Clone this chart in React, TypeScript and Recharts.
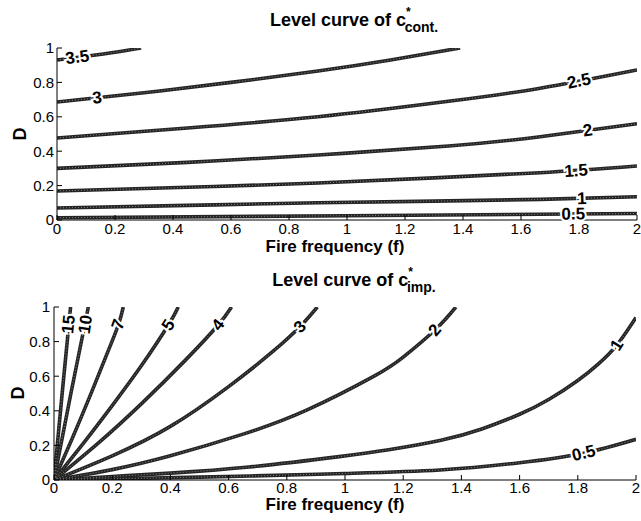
import React from 'react';
import { LineChart, Line, XAxis, YAxis, ReferenceDot } from 'recharts';

// axis ticks
const xTicks = [0, 0.2, 0.4, 0.6, 0.8, 1, 1.2, 1.4, 1.6, 1.8, 2];
const yTicks = [0, 0.2, 0.4, 0.6, 0.8, 1];

// level curves of c*_cont. as [f, D] pairs
const cont35 = [[0, 0.93], [0.1, 0.952], [0.2, 0.975], [0.29, 1.0]];
const cont3 = [[0, 0.686], [0.3, 0.74], [0.6, 0.8], [0.9, 0.866], [1.15, 0.93], [1.39, 1.0]];
const cont25 = [[0, 0.477], [0.45, 0.535], [0.9, 0.6], [1.35, 0.69], [1.666, 0.766], [2, 0.872]];
const cont2 = [[0, 0.3], [0.45, 0.335], [0.9, 0.378], [1.35, 0.43], [1.666, 0.484], [2, 0.56]];
const cont15 = [[0, 0.169], [0.45, 0.19], [0.9, 0.215], [1.3, 0.245], [1.666, 0.275], [2, 0.314]];
const cont1 = [[0, 0.07], [0.45, 0.085], [0.9, 0.1], [1.3, 0.11], [1.666, 0.12], [2, 0.135]];
const cont05 = [[0, 0.013], [1, 0.025], [1.666, 0.033], [2, 0.038]];

const contLabels = [
  { t: '3.5', f: 0.07, D: 0.946, a: -8 },
  { t: '3', f: 0.138, D: 0.711, a: -6 },
  { t: '2.5', f: 1.8, D: 0.808, a: -12 },
  { t: '2', f: 1.83, D: 0.521, a: -8 },
  { t: '1.5', f: 1.79, D: 0.286, a: -4 },
  { t: '1', f: 1.81, D: 0.125, a: -2 },
  { t: '0.5', f: 1.78, D: 0.035, a: -1 },
];

// level curves of c*_imp.
const imp15 = [[0, 0], [0.028, 0.5], [0.057, 1]];
const imp10 = [[0, 0], [0.058, 0.5], [0.118, 1]];
const imp7 = [[0, 0], [0.06, 0.23], [0.12, 0.47], [0.18, 0.72], [0.221, 0.896], [0.238, 1]];
const imp5 = [[0, 0], [0.1, 0.21], [0.2, 0.43], [0.3, 0.66], [0.393, 0.896], [0.427, 1]];
const imp4 = [[0, 0], [0.15, 0.21], [0.3, 0.44], [0.45, 0.69], [0.564, 0.896], [0.61, 1]];
const imp3 = [[0, 0], [0.2, 0.14], [0.4, 0.31], [0.6, 0.54], [0.75, 0.74], [0.845, 0.886], [0.905, 1]];
const imp2 = [[0, 0], [0.2, 0.06], [0.4, 0.14], [0.65, 0.265], [0.87, 0.405], [1.1, 0.6], [1.2, 0.71], [1.309, 0.867], [1.381, 1]];
const imp1 = [[0, 0], [0.2, 0.02], [0.4, 0.04], [0.67, 0.075], [0.98, 0.135], [1.15, 0.175], [1.33, 0.23], [1.47, 0.295], [1.6, 0.38], [1.7, 0.465], [1.8, 0.575], [1.87, 0.67], [1.934, 0.78], [2, 0.94]];
const imp05 = [[0, 0], [0.3, 0.01], [0.674, 0.023], [1, 0.038], [1.326, 0.058], [1.6, 0.1], [1.82, 0.155], [2, 0.235]];

const impLabels = [
  { t: '15', f: 0.05, D: 0.9, a: -84 },
  { t: '10', f: 0.108, D: 0.9, a: -81 },
  { t: '7', f: 0.221, D: 0.9, a: -70 },
  { t: '5', f: 0.393, D: 0.896, a: -58 },
  { t: '4', f: 0.564, D: 0.896, a: -52 },
  { t: '3', f: 0.845, D: 0.886, a: -45 },
  { t: '2', f: 1.309, D: 0.867, a: -50 },
  { t: '1', f: 1.934, D: 0.78, a: -58 },
  { t: '0.5', f: 1.82, D: 0.155, a: -14 },
];

const toPts = (c: number[][]) => c.map(([f, D]) => ({ f, D }));

const FONT = '"Liberation Sans", Arial, Helvetica, sans-serif';

type Label = { t: string; f: number; D: number; a: number };

function Panel({ curves, labels, top, height, mt, mr, yw, xh, tmx, tmy }: any) {
  return (
    <div style={{ position: 'absolute', left: 0, top }}>
      <LineChart width={641} height={height} margin={{ top: mt, right: mr, bottom: 0, left: 0 }}>
        <XAxis
          xAxisId="b"
          dataKey="f"
          type="number"
          domain={[0, 2]}
          ticks={xTicks}
          interval={0}
          allowDataOverflow
          height={xh}
          tickSize={-5}
          tickMargin={tmx}
          stroke="#000"
          tick={{ fill: '#000', fontSize: 15 }}
        />
        <XAxis
          xAxisId="t"
          orientation="top"
          type="number"
          domain={[0, 2]}
          ticks={xTicks}
          interval={0}
          height={0}
          tickSize={-5}
          tick={false}
          stroke="#000"
        />
        <YAxis
          yAxisId="l"
          type="number"
          domain={[0, 1]}
          ticks={yTicks}
          interval={0}
          allowDataOverflow
          width={yw}
          tickSize={-5}
          tickMargin={tmy}
          stroke="#000"
          tick={{ fill: '#000', fontSize: 15 }}
        />
        <YAxis
          yAxisId="r"
          orientation="right"
          type="number"
          domain={[0, 1]}
          ticks={yTicks}
          interval={0}
          width={0}
          tickSize={-5}
          tick={false}
          stroke="#000"
        />
        {curves.map((c: number[][], i: number) => (
          <Line
            key={'c' + i}
            xAxisId="b"
            yAxisId="l"
            data={toPts(c)}
            dataKey="D"
            type="natural"
            stroke="#252525"
            strokeWidth={3.6}
            dot={false}
            activeDot={false}
            isAnimationActive={false}
          />
        ))}
        {curves.map((c: number[][], i: number) => (
          <Line
            key={'d' + i}
            xAxisId="b"
            yAxisId="l"
            data={toPts(c)}
            dataKey="D"
            type="natural"
            stroke="#808080"
            strokeWidth={1}
            strokeDasharray="1 2"
            dot={false}
            activeDot={false}
            isAnimationActive={false}
          />
        ))}
        {labels.map((l: Label) => (
          <ReferenceDot
            key={l.t}
            xAxisId="b"
            yAxisId="l"
            x={l.f}
            y={l.D}
            r={0}
            shape={(p: any) => (
              <text
                x={p.cx}
                y={p.cy}
                transform={`rotate(${l.a} ${p.cx} ${p.cy})`}
                textAnchor="middle"
                dominantBaseline="central"
                fontSize={17}
                fontWeight="bold"
                fontFamily={FONT}
                fill="#000"
                stroke="#fff"
                strokeWidth={4}
                paintOrder="stroke"
              >
                {l.t}
              </text>
            )}
          />
        ))}
      </LineChart>
    </div>
  );
}

export default function App() {
  return (
    <div
      style={{
        position: 'absolute',
        left: 0,
        top: 0,
        width: 641,
        height: 521,
        background: '#fff',
        fontFamily: FONT,
      }}
    >
      <Panel
        curves={[cont35, cont3, cont25, cont2, cont15, cont1, cont05]}
        labels={contLabels}
        top={0}
        height={260}
        mt={48}
        mr={4}
        yw={57}
        xh={40}
        tmx={8}
        tmy={8}
      />
      <Panel
        curves={[imp15, imp10, imp7, imp5, imp4, imp3, imp2, imp1, imp05]}
        labels={impLabels}
        top={260}
        height={261}
        mt={47}
        mr={5}
        yw={54}
        xh={41}
        tmx={7}
        tmy={9}
      />
      <svg
        width={641}
        height={521}
        style={{ position: 'absolute', left: 0, top: 0, pointerEvents: 'none' }}
        fontFamily={FONT}
        fontWeight="bold"
      >
        <text x={354} y={26} textAnchor="middle" fontSize={18}>
          Level curve of c
          <tspan fontSize={12} dy={-10}>*</tspan>
          <tspan fontSize={14} dx={-6} dy={16}>cont.</tspan>
        </text>
        <text x={335} y={252} textAnchor="middle" fontSize={17}>Fire frequency (f)</text>
        <text x={26} y={134} textAnchor="middle" fontSize={18} transform="rotate(-90 26 134)">D</text>

        <text x={354} y={286} textAnchor="middle" fontSize={18}>
          Level curve of c
          <tspan fontSize={12} dy={-10}>*</tspan>
          <tspan fontSize={14} dx={-6} dy={16}>imp.</tspan>
        </text>
        <text x={335} y={510} textAnchor="middle" fontSize={17}>Fire frequency (f)</text>
        <text x={24} y={393} textAnchor="middle" fontSize={18} transform="rotate(-90 24 393)">D</text>
      </svg>
    </div>
  );
}
